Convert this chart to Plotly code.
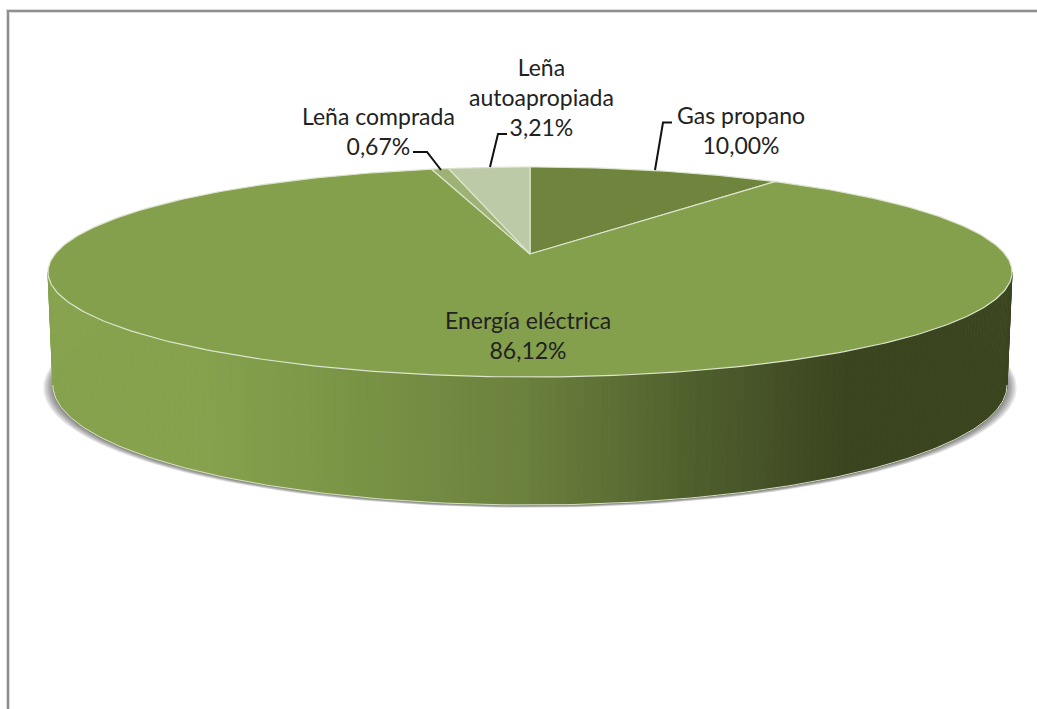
import numpy as np
import plotly.graph_objects as go

# Heating-energy shares, clockwise from twelve o'clock
categories = ["Gas propano", "Energía eléctrica", "Leña comprada", "Leña autoapropiada"]
shares = [10.00, 86.12, 0.67, 3.21]
label_lines = [["Gas propano"], ["Energía eléctrica"], ["Leña comprada"], ["Leña", "autoapropiada"]]

slice_colors = ["#6f853d", "#84a04c", "#9db274", "#bccaa8"]
label_anchor = [(741, 130), (528, 335), (378, 131), (541, 97)]
leaders = [
    ([655, 663, 672], [170, 122.5, 122.5]),
    None,
    ([441, 427, 413], [170, 152, 152]),
    ([490, 498, 507], [167, 134, 134]),
]

# Perspective disc: centre, half-width, vertical scale, foreshortening
CX = 530
TOP = dict(y0=254.0, a=101.9, b=474.9, k=0.1714)
BOTTOM = dict(y0=364.4, a=116.5, b=470.0, k=0.1714)

# Side-wall shading as (x, colour)
wall_x = [50, 200, 300, 350, 440, 530, 620, 700, 780, 850, 1015]
wall_rgb = [
    (134, 162, 77), (134, 162, 77), (126, 153, 72), (122, 148, 69),
    (114, 138, 65), (106, 127, 61), (92, 110, 52), (78, 94, 43),
    (68, 79, 38), (58, 69, 31), (58, 69, 31),
]


def rim(theta, y0, a, b, k):
    """Project angles (radians clockwise from the top) onto the tilted disc."""
    d = 1 + k * np.cos(theta)
    return CX + b * np.sin(theta) / d, y0 - a * np.cos(theta) / d


def wall_color(x):
    c = [np.interp(x, wall_x, [p[i] for p in wall_rgb]) for i in range(3)]
    return "rgb({:.0f},{:.0f},{:.0f})".format(*c)


fig = go.Figure()


def poly(xs, ys, fill, line=None, width=0.0):
    fig.add_trace(go.Scatter(
        x=list(xs), y=list(ys), mode="lines", fill="toself", fillcolor=fill,
        line=dict(color=line or fill, width=width), hoverinfo="skip", showlegend=False,
    ))


# Soft drop shadow under the disc: stacked translucent ellipses
full = np.linspace(0, 2 * np.pi, 241)
for grow in np.linspace(9.5, 1, 7):
    sx, sy = rim(full, BOTTOM["y0"] + 1, BOTTOM["a"], BOTTOM["b"] + grow, BOTTOM["k"])
    poly(sx, sy + grow * 0.2, "rgba(50,50,50,0.10)")

# Side wall from the right extreme round the front to the left extreme
th_r = np.arccos(-TOP["k"])
th_l = 2 * np.pi - th_r
edges = np.linspace(th_r, th_l, 181)
for t0, t1 in zip(edges[:-1], edges[1:]):
    seg = np.array([t0, t1])
    tx, ty = rim(seg, **TOP)
    bx, by = rim(seg[::-1], **BOTTOM)
    poly(np.r_[tx, bx, tx[0]], np.r_[ty, by, ty[0]], wall_color(tx.mean()), width=0.8)

# Thin highlight along the wall's lower edge
low = np.linspace(th_r, th_l, 200)
lx, ly = rim(low, **BOTTOM)
fig.add_trace(go.Scatter(x=lx, y=ly, mode="lines", line=dict(color="#d9dfcb", width=1),
                         hoverinfo="skip", showlegend=False))

# Top face, one wedge per category
fracs = np.cumsum([0] + shares) / sum(shares) * 2 * np.pi
for i, name in enumerate(categories):
    arc = np.linspace(fracs[i], fracs[i + 1], max(4, int(shares[i] * 4)))
    ax, ay = rim(arc, **TOP)
    poly(np.r_[CX, ax, CX], np.r_[TOP["y0"], ay, TOP["y0"]], slice_colors[i], "#dde4cd", 1.2)

# Leader lines
for path in leaders:
    if path:
        fig.add_trace(go.Scatter(x=path[0], y=path[1], mode="lines",
                                 line=dict(color="#111111", width=2),
                                 hoverinfo="skip", showlegend=False))

# Data labels in the decimal-comma format
annotations = []
for lines, value, (ax, ay) in zip(label_lines, shares, label_anchor):
    text = "<br>".join(lines + [f"{value:.2f}%".replace(".", ",")])
    annotations.append(dict(
        x=ax, y=ay, xref="x", yref="y", text=text, showarrow=False,
        xanchor="center", yanchor="middle", align="center",
        font=dict(family="Lato, Carlito, sans-serif", size=23, color="#222222"),
    ))

# Chart-area frame, running off the right and bottom edges
frame = [
    dict(type="rect", x0=8, y0=11, x1=1120, y1=790, layer="below",
         line=dict(color="#dcdcdc", width=4), xref="x", yref="y"),
    dict(type="rect", x0=8, y0=11, x1=1120, y1=790, layer="below",
         line=dict(color="#8f8f8f", width=2), xref="x", yref="y"),
]

fig.update_layout(
    width=1037, height=709, margin=dict(l=0, r=0, t=0, b=0),
    paper_bgcolor="white", plot_bgcolor="white", showlegend=False,
    xaxis=dict(range=[0, 1037], visible=False, fixedrange=True),
    yaxis=dict(range=[709, 0], visible=False, fixedrange=True),
    annotations=annotations, shapes=frame,
)
fig.write_html("out.html", config=dict(displayModeBar=False))
